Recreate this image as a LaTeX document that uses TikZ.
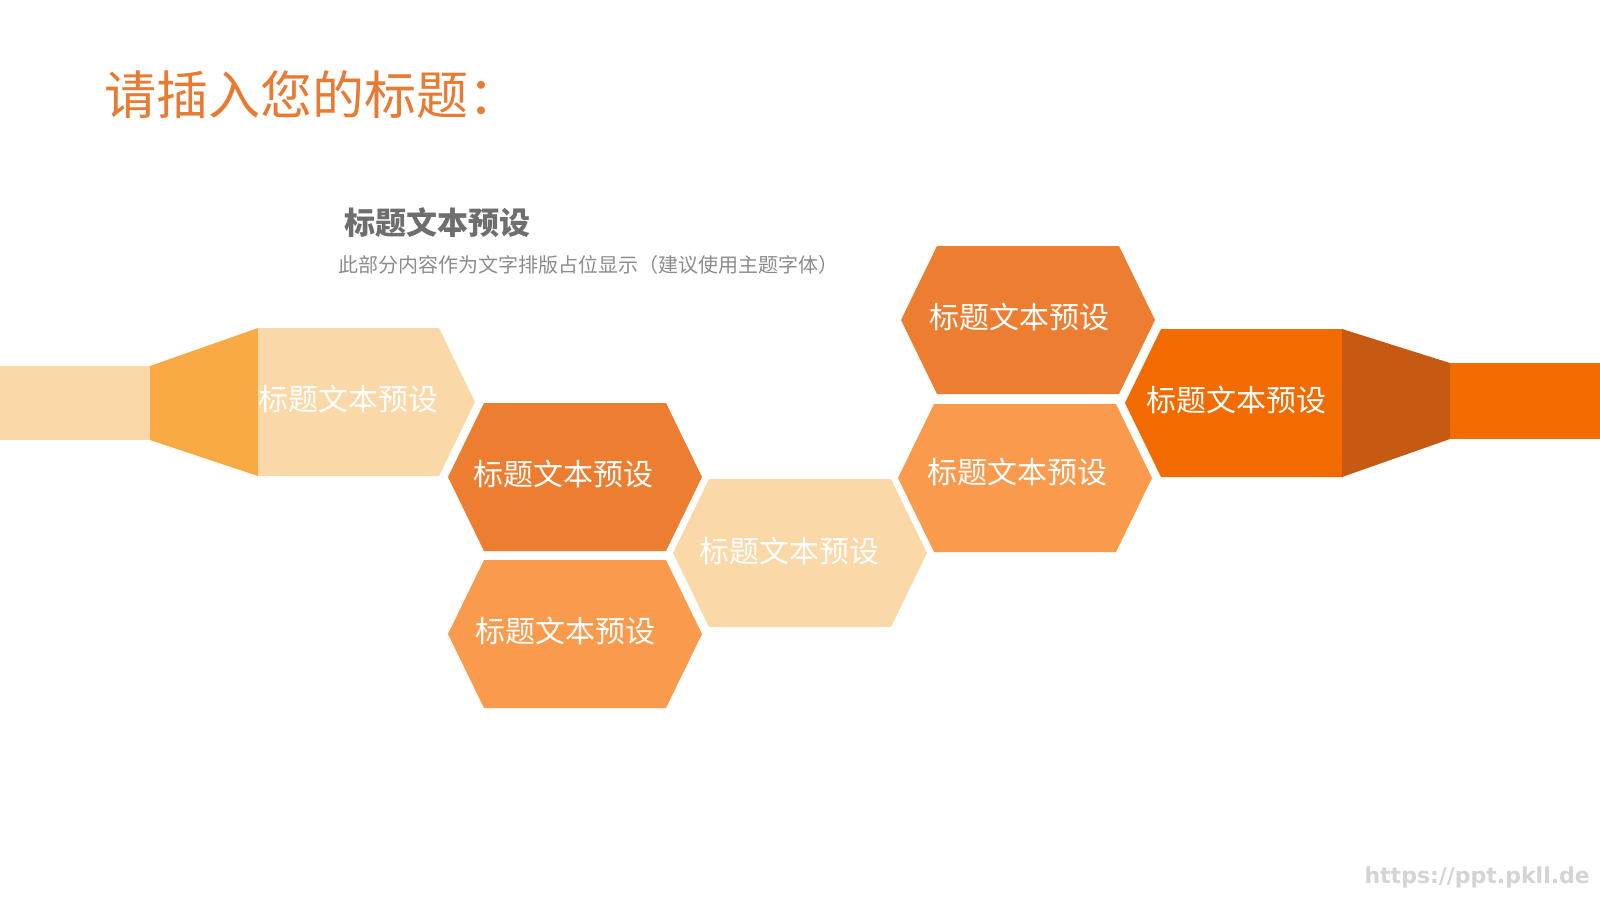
\documentclass[tikz,border=0pt]{standalone}
\usepackage{fontspec}
\newfontfamily\cjk{Noto Sans CJK SC}
\newfontfamily\urlfont{DejaVu Sans}
\definecolor{cLight}{HTML}{FBD8A8}
\definecolor{cTrapL}{HTML}{F9AA44}
\definecolor{cDark}{HTML}{ED7D31}
\definecolor{cMid}{HTML}{FA9A4C}
\definecolor{cHot}{HTML}{F26B00}
\definecolor{cTrapR}{HTML}{C65A12}
\definecolor{cTitle}{HTML}{E97A31}
\definecolor{cSub}{HTML}{6E6E6E}
\definecolor{cBody}{HTML}{8C8C8C}
\definecolor{cUrl}{HTML}{D4D4D4}
\tikzset{
  hextext/.style={text=white, font=\cjk\fontsize{30}{36}\selectfont, inner sep=0pt},
}
\begin{document}
\begin{tikzpicture}[x=1pt,y=-1pt]
\useasboundingbox[fill=white] (0,0) rectangle (1600,900);
% left band and trapezoid
\fill[cLight] (0,366) rectangle (150,440);
\fill[cTrapL] (150,366) -- (258,328) -- (258,476) -- (150,440) -- cycle;
% hex1 (left, light)
\fill[cLight] (258,328) -- (439,328) -- (475,402) -- (439,476) -- (258,476) -- cycle;
% hex2
\fill[cDark] (448,477) -- (484,403) -- (666,403) -- (702,477) -- (666,551) -- (484,551) -- cycle;
% hex3
\fill[cMid] (448,634) -- (484,560) -- (666,560) -- (702,634) -- (666,708) -- (484,708) -- cycle;
% hex4
\fill[cLight] (673,553) -- (709,479) -- (891,479) -- (927,553) -- (891,627) -- (709,627) -- cycle;
% hex5
\fill[cDark] (901,320) -- (937,246) -- (1119,246) -- (1155,320) -- (1119,394) -- (937,394) -- cycle;
% hex7
\fill[cMid] (898,478) -- (934,404) -- (1116,404) -- (1152,478) -- (1116,552) -- (934,552) -- cycle;
% hex6 (right, hot)
\fill[cHot] (1125,403) -- (1161,329) -- (1342,329) -- (1342,477) -- (1161,477) -- cycle;
% right trapezoid and band
\fill[cTrapR] (1342,329) -- (1450,363) -- (1450,439) -- (1342,477) -- cycle;
\fill[cHot] (1450,363) rectangle (1600,439);

% texts
\node[hextext] (t1) at (348,399) {标题文本预设};
\node[hextext] (t2) at (563,474) {标题文本预设};
\node[hextext] (t3) at (565,631) {标题文本预设};
\node[hextext] (t4) at (789,551) {标题文本预设};
\node[hextext] (t5) at (1019,317) {标题文本预设};
\node[hextext] (t7) at (1017,472) {标题文本预设};
\node[hextext] (t6) at (1236,400) {标题文本预设};

\node[text=cTitle, font=\cjk\fontsize{52}{60}\selectfont, inner sep=0pt, anchor=west] (title) at (104,95) {请插入您的标题：};
\node[text=cSub, font=\cjk\bfseries\fontsize{31}{36}\selectfont, inner sep=0pt] (sub) at (437,223) {标题文本预设};
\node[text=cBody, font=\cjk\fontsize{20}{24}\selectfont, inner sep=0pt] (body) at (588,265) {此部分内容作为文字排版占位显示（建议使用主题字体）};
\node[text=cUrl, font=\urlfont\bfseries\fontsize{22}{26}\selectfont, inner sep=0pt, anchor=east] (url) at (1590,877) {https://ppt.pkll.de};
\end{tikzpicture}
\end{document}
